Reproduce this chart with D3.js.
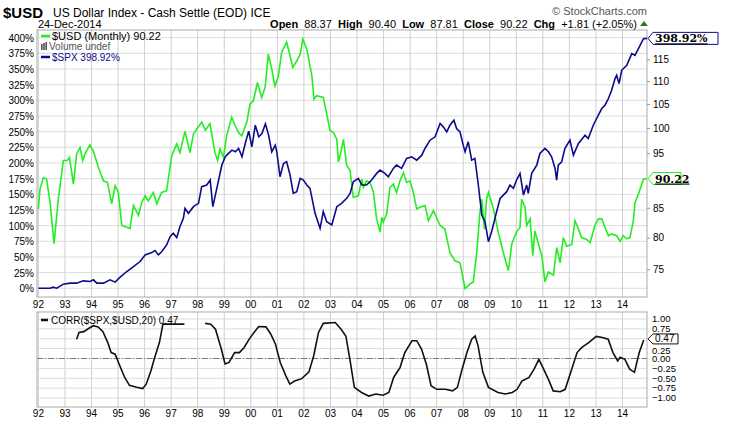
<!DOCTYPE html>
<html><head><meta charset="utf-8">
<script src="https://cdn.jsdelivr.net/npm/d3@7"></script>
<style>
body{margin:0;background:#fff;font-family:"Liberation Sans",Arial,sans-serif}
text{font-family:"Liberation Sans",Arial,sans-serif}
</style></head>
<body><svg width="750" height="425"></svg>
<script>
// monthly-ish readings: [decimal year, value]
var usd = [[1992.0,84.8],[1992.06,88.3],[1992.19,90.4],[1992.31,90.1],[1992.44,85.9],[1992.59,79.0],[1992.75,86.5],[1992.94,93.6],[1993.09,93.6],[1993.17,94.2],[1993.32,89.2],[1993.44,94.8],[1993.57,96.1],[1993.67,93.6],[1993.76,94.9],[1993.94,96.6],[1994.07,95.4],[1994.26,92.3],[1994.45,89.8],[1994.6,89.5],[1994.76,85.7],[1994.89,88.9],[1995.01,87.7],[1995.14,82.0],[1995.33,81.7],[1995.45,81.5],[1995.58,85.4],[1995.77,83.7],[1995.89,85.9],[1996.02,87.1],[1996.14,86.2],[1996.33,87.7],[1996.46,85.7],[1996.64,87.7],[1996.83,88.0],[1997.02,94.5],[1997.21,96.8],[1997.33,95.1],[1997.52,99.3],[1997.71,95.1],[1997.84,98.8],[1998.02,100.2],[1998.15,101.2],[1998.29,99.5],[1998.46,100.9],[1998.65,95.1],[1998.75,93.6],[1998.84,95.8],[1998.97,94.2],[1999.09,98.4],[1999.28,102.2],[1999.41,100.5],[1999.53,99.1],[1999.66,98.4],[1999.85,101.2],[1999.97,105.0],[2000.1,105.7],[2000.25,109.7],[2000.41,106.4],[2000.54,108.6],[2000.66,116.2],[2000.79,112.7],[2000.91,108.9],[2001.04,111.2],[2001.16,116.6],[2001.35,119.1],[2001.48,115.8],[2001.58,113.1],[2001.73,114.6],[2001.86,116.2],[2001.96,119.8],[2002.11,117.4],[2002.3,111.2],[2002.38,106.0],[2002.48,106.8],[2002.73,106.4],[2002.86,102.9],[2002.98,99.5],[2003.11,99.1],[2003.24,97.7],[2003.3,93.3],[2003.36,94.5],[2003.49,97.7],[2003.61,92.7],[2003.74,91.7],[2003.86,86.8],[2004.05,87.1],[2004.18,90.1],[2004.24,88.6],[2004.36,89.8],[2004.49,89.5],[2004.62,87.7],[2004.74,83.1],[2004.87,80.9],[2004.93,83.4],[2004.99,82.6],[2005.12,84.0],[2005.24,88.6],[2005.37,89.2],[2005.49,87.7],[2005.62,89.8],[2005.75,91.3],[2005.87,89.5],[2006.0,89.8],[2006.12,87.7],[2006.25,84.8],[2006.37,85.1],[2006.56,85.4],[2006.69,82.8],[2006.88,84.5],[2007.13,82.0],[2007.31,81.4],[2007.5,77.6],[2007.69,76.3],[2007.88,76.0],[2008.07,72.1],[2008.26,72.8],[2008.38,73.1],[2008.51,77.6],[2008.63,84.2],[2008.7,86.5],[2008.8,81.4],[2008.88,86.5],[2008.95,87.7],[2009.14,84.8],[2009.32,80.9],[2009.51,77.6],[2009.7,74.8],[2009.83,79.0],[2010.01,80.9],[2010.14,81.7],[2010.2,86.5],[2010.33,85.1],[2010.39,82.0],[2010.52,83.1],[2010.62,77.1],[2010.7,81.1],[2010.83,79.0],[2010.96,77.1],[2011.08,73.1],[2011.21,74.6],[2011.4,74.1],[2011.52,78.4],[2011.65,76.0],[2011.77,80.0],[2011.9,78.6],[2012.09,78.9],[2012.21,82.8],[2012.34,81.4],[2012.46,80.0],[2012.65,79.7],[2012.78,79.2],[2012.96,82.0],[2013.09,83.1],[2013.22,83.1],[2013.34,81.7],[2013.47,80.3],[2013.59,80.6],[2013.78,80.3],[2013.91,79.4],[2014.03,80.3],[2014.16,79.8],[2014.28,80.0],[2014.41,82.8],[2014.47,85.9],[2014.6,87.4],[2014.79,90.1],[2014.92,90.22]];

var spx = [[1992.0,0],[1992.19,0],[1992.44,0.2],[1992.56,1.8],[1992.69,0.2],[1992.94,6.6],[1993.19,8.2],[1993.44,8.2],[1993.69,11.9],[1993.95,10.8],[1994.07,13.5],[1994.2,8.2],[1994.45,8.2],[1994.7,13.5],[1994.89,9.8],[1995.08,17.7],[1995.33,26.8],[1995.58,34.7],[1995.83,42.7],[1996.02,53.3],[1996.27,57.0],[1996.39,60.2],[1996.52,53.3],[1996.65,58.6],[1996.83,69.2],[1996.96,82.5],[1997.08,87.8],[1997.21,80.9],[1997.33,98.4],[1997.46,111.7],[1997.52,127.7],[1997.65,119.7],[1997.84,130.3],[1998.03,135.6],[1998.15,162.2],[1998.34,164.9],[1998.47,172.8],[1998.57,130.3],[1998.72,159.5],[1998.91,196.7],[1999.04,210.0],[1999.16,215.3],[1999.29,220.6],[1999.42,217.9],[1999.54,223.2],[1999.67,210.0],[1999.79,231.2],[1999.92,250.9],[2000.04,225.9],[2000.17,260.4],[2000.3,241.8],[2000.42,247.1],[2000.55,262.5],[2000.67,244.5],[2000.79,217.9],[2000.92,228.5],[2000.98,217.9],[2001.1,178.1],[2001.23,199.3],[2001.35,202.0],[2001.48,180.7],[2001.6,151.5],[2001.73,154.2],[2001.86,175.4],[2001.98,172.8],[2002.11,164.9],[2002.23,159.5],[2002.42,119.7],[2002.61,95.8],[2002.73,122.3],[2002.86,106.4],[2003.05,101.1],[2003.24,130.3],[2003.42,135.6],[2003.61,143.6],[2003.74,151.5],[2003.86,170.1],[2004.05,175.4],[2004.18,164.9],[2004.36,164.9],[2004.55,172.8],[2004.74,183.4],[2004.87,188.6],[2005.05,183.4],[2005.18,178.1],[2005.37,191.3],[2005.49,196.6],[2005.68,191.3],[2005.87,207.2],[2006.06,209.9],[2006.25,204.6],[2006.44,212.5],[2006.56,223.2],[2006.75,236.4],[2006.94,241.8],[2007.13,263.0],[2007.25,257.7],[2007.38,249.7],[2007.5,260.4],[2007.65,268.4],[2007.75,255.0],[2007.88,249.7],[2008.0,228.5],[2008.07,217.9],[2008.19,233.8],[2008.32,204.6],[2008.44,207.2],[2008.57,164.9],[2008.7,116.9],[2008.82,106.4],[2008.95,74.4],[2009.07,90.3],[2009.26,122.3],[2009.39,143.5],[2009.51,148.8],[2009.64,154.2],[2009.76,164.9],[2009.89,159.5],[2010.01,172.8],[2010.14,183.4],[2010.27,148.8],[2010.39,164.9],[2010.45,151.5],[2010.58,183.4],[2010.77,196.7],[2010.89,215.3],[2011.08,223.2],[2011.21,217.9],[2011.33,209.9],[2011.46,191.3],[2011.52,172.8],[2011.58,196.6],[2011.71,201.9],[2011.83,223.2],[2012.02,236.4],[2012.15,212.5],[2012.34,231.1],[2012.59,244.4],[2012.71,239.1],[2012.9,260.3],[2013.09,276.3],[2013.22,286.9],[2013.34,292.2],[2013.47,302.9],[2013.59,316.1],[2013.72,334.7],[2013.78,340.0],[2013.87,326.7],[2013.97,348.0],[2014.16,356.0],[2014.35,374.6],[2014.47,371.9],[2014.6,382.5],[2014.79,398.5],[2014.92,398.92]];

// null marks the stretch the indicator leaves blank
var corr = [[1993.44,0.49],[1993.53,0.66],[1993.71,0.68],[1993.89,0.76],[1994.07,0.83],[1994.25,0.80],[1994.43,0.68],[1994.61,0.41],[1994.74,0.15],[1994.89,0.11],[1995.07,-0.19],[1995.25,-0.48],[1995.43,-0.68],[1995.7,-0.73],[1995.93,-0.76],[1996.06,-0.65],[1996.24,-0.31],[1996.36,-0.02],[1996.56,0.41],[1996.69,0.87],[1996.78,0.87],[1997.5,0.87],[1997.9,null],[1998.28,0.89],[1998.49,0.87],[1998.67,0.74],[1998.89,0.24],[1999.03,-0.14],[1999.18,-0.10],[1999.39,0.15],[1999.57,0.15],[1999.75,0.28],[1999.94,0.49],[2000.12,0.66],[2000.3,0.81],[2000.57,0.80],[2000.75,0.62],[2000.93,0.36],[2001.11,-0.10],[2001.32,-0.44],[2001.47,-0.65],[2001.65,-0.57],[2001.92,-0.51],[2002.19,-0.34],[2002.37,0.07],[2002.55,0.66],[2002.73,0.89],[2003.18,0.91],[2003.4,0.74],[2003.58,0.57],[2003.72,0.03],[2003.9,-0.73],[2004.17,-0.86],[2004.44,-0.95],[2004.71,-0.90],[2004.98,-0.93],[2005.2,-0.86],[2005.38,-0.48],[2005.62,-0.23],[2005.8,0.15],[2006.07,0.45],[2006.25,0.45],[2006.43,0.24],[2006.61,-0.14],[2006.79,-0.69],[2007.0,-0.78],[2007.33,-0.78],[2007.6,-0.82],[2007.78,-0.73],[2007.96,-0.27],[2008.14,0.15],[2008.32,0.49],[2008.45,0.57],[2008.56,0.32],[2008.74,-0.35],[2008.95,-0.73],[2009.31,-0.86],[2009.58,-0.90],[2009.85,-0.86],[2010.03,-0.78],[2010.21,-0.57],[2010.48,-0.48],[2010.67,-0.27],[2010.85,-0.02],[2011.03,-0.27],[2011.21,-0.53],[2011.39,-0.82],[2011.66,-0.84],[2011.84,-0.78],[2012.05,-0.35],[2012.29,0.15],[2012.47,0.28],[2012.74,0.41],[2013.01,0.56],[2013.24,0.53],[2013.46,0.49],[2013.64,0.15],[2013.82,-0.06],[2013.91,0.03],[2014.09,-0.02],[2014.27,-0.27],[2014.45,-0.35],[2014.63,0.15],[2014.8,0.47]];

var svg = d3.select('svg');
var green = '#22ee22', navy = '#0c0c8a', grid = '#dcdcdc';
var L = 37, R = 647;

var x = d3.scaleLinear().domain([1992, 2015]).range([38.4, 38.4 + 23*26.55]);
var yPct = d3.scaleLinear().domain([0, 400]).range([288.3, 37.7]);
var yUsd = d3.scaleLog().domain([75, 115]).range([269.3, 59.3]);
var yC = d3.scaleLinear().domain([-1, 1]).range([398, 319]);

var years = d3.range(1992, 2015);
var yrLab = d => String(d).slice(2);

// ---- main panel
var mainTop = 30, mainBot = 297;
d3.range(0, 401, 25).forEach(function(p){
    svg.append('line').attr('x1', L).attr('x2', R).attr('y1', yPct(p)).attr('y2', yPct(p)).attr('stroke', grid);
    svg.append('text').attr('x', 34).attr('y', yPct(p) + 4).attr('text-anchor', 'end')
       .attr('font-size', 10).text(p + '%');
});
years.forEach(function(yr){
    svg.append('line').attr('x1', x(yr)).attr('x2', x(yr)).attr('y1', mainTop).attr('y2', mainBot).attr('stroke', '#cfcfcf');
    svg.append('text').attr('x', x(yr)).attr('y', 308).attr('text-anchor', 'middle').attr('font-size', 10).text(yrLab(yr));
    svg.append('line').attr('x1', x(yr)).attr('x2', x(yr)).attr('y1', 312).attr('y2', 407).attr('stroke', '#cfcfcf');
    svg.append('text').attr('x', x(yr)).attr('y', 417).attr('text-anchor', 'middle').attr('font-size', 10).text(yrLab(yr));
});
svg.append('rect').attr('x', L).attr('y', mainTop).attr('width', R - L).attr('height', mainBot - mainTop)
   .attr('fill', 'none').attr('stroke', '#aaa');

// right usd axis (90 sits under the value tag)
var rAxis = d3.axisRight(yUsd).tickValues([75, 80, 85, 95, 100, 105, 110, 115]).tickFormat(d3.format('d')).tickSize(3);
svg.append('g').attr('transform', `translate(${R},0)`).call(rAxis)
   .call(g => g.select('.domain').remove())
   .call(g => g.selectAll('text').attr('font-size', 10).attr('x', 6).style('font-family', 'Liberation Sans'))
   .call(g => g.selectAll('line').attr('stroke', '#999'));

var line = d3.line().x(d => x(d[0]));
svg.append('path').attr('d', line.y(d => yUsd(d[1]))(usd)).attr('fill', 'none').attr('stroke', green).attr('stroke-width', 1.6);
svg.append('path').attr('d', line.y(d => yPct(d[1]))(spx)).attr('fill', 'none').attr('stroke', navy).attr('stroke-width', 1.6);

// value tags
function tag(yv, txt, col, w){
    var g = svg.append('g').attr('transform', `translate(${R + 1},${yv})`);
    g.append('path').attr('d', `M0,0 L5,-6 L${w},-6 L${w},6 L5,6 Z`).attr('fill', '#fff').attr('stroke', col);
    g.append('text').attr('x', 7).attr('y', 4).attr('font-size', 11).attr('font-weight', 'bold')
     .style('font-family', 'DejaVu Serif').style('text-decoration', 'underline').text(txt);
}
tag(yPct(398.92), '398.92%', navy, 70);
tag(yUsd(90.22), '90.22', green, 33);

// legend
var lg = svg.append('g').attr('font-size', 11);
lg.append('line').attr('x1', 41).attr('x2', 50).attr('y1', 36).attr('y2', 36).attr('stroke', green).attr('stroke-width', 2.5);
lg.append('text').attr('x', 52).attr('y', 40).attr('font-family', 'DejaVu Sans').text('$USD (Monthly) 90.22');
[0, 1, 2].forEach(i => lg.append('rect').attr('x', 41 + i * 2.2).attr('y', 44 - i).attr('width', 1.6).attr('height', 6 + i).attr('fill', '#555'));
lg.append('text').attr('x', 49).attr('y', 50).attr('fill', '#555').attr('font-size', 10).attr('font-family', 'DejaVu Sans').text('Volume undef');
lg.append('line').attr('x1', 41).attr('x2', 50).attr('y1', 57).attr('y2', 57).attr('stroke', navy).attr('stroke-width', 2.5);
lg.append('text').attr('x', 52).attr('y', 61).attr('fill', navy).attr('font-size', 10).attr('font-family', 'DejaVu Sans').text('$SPX 398.92%');

// ---- lower panel
d3.range(-1, 1.01, 0.25).forEach(function(c){
    svg.append('line').attr('x1', L).attr('x2', R).attr('y1', yC(c)).attr('y2', yC(c)).attr('stroke', grid);
    if (Math.abs(c - 0.5) > 0.01)
        svg.append('text').attr('x', 652).attr('y', yC(c) + (c === 0.25 ? 5 : 3.3)).attr('font-size', 9.5).text(d3.format('.2f')(c));
});
svg.append('line').attr('x1', L).attr('x2', R).attr('y1', yC(0)).attr('y2', yC(0))
   .attr('stroke', '#777').attr('stroke-dasharray', '6,2,1,2');
svg.append('rect').attr('x', L).attr('y', 312).attr('width', R - L).attr('height', 95).attr('fill', 'none').attr('stroke', '#aaa');
svg.append('path').attr('d', line.defined(d => d[1] !== null).y(d => yC(d[1]))(corr))
   .attr('fill', 'none').attr('stroke', '#111').attr('stroke-width', 1.6);
svg.append('line').attr('x1', 41).attr('x2', 48).attr('y1', 320).attr('y2', 320).attr('stroke', '#111').attr('stroke-width', 2.5);
svg.append('text').attr('x', 51).attr('y', 324).attr('font-size', 10).attr('font-family', 'DejaVu Sans').text('CORR($SPX,$USD,20) 0.47');
var cg = svg.append('g').attr('transform', `translate(${R + 1},${yC(0.47) - 1})`);
cg.append('path').attr('d', 'M0,0 L5,-5 L30,-5 L30,5 L5,5 Z').attr('fill', '#fff').attr('stroke', '#111');
cg.append('text').attr('x', 7).attr('y', 3.5).attr('font-size', 10).text('0.47');

// ---- header
svg.append('text').attr('x', 3).attr('y', 18).attr('font-size', 15).attr('font-weight', 'bold').text('$USD');
svg.append('text').attr('x', 53).attr('y', 17).attr('font-size', 12).text('US Dollar Index - Cash Settle (EOD) ICE');
svg.append('text').attr('x', 38).attr('y', 28).attr('font-size', 11).text('24-Dec-2014');
svg.append('text').attr('x', 647).attr('y', 15).attr('text-anchor', 'end').attr('font-size', 11).attr('fill', '#555').text('© StockCharts.com');
var hdr = svg.append('text').attr('x', 637).attr('y', 28).attr('text-anchor', 'end').attr('font-size', 11);
[['Open ', ' 88.37  '], ['High ', ' 90.40  '], ['Low ', ' 87.81  '], ['Close ', ' 90.22  '], ['Chg ', ' +1.81 (+2.05%)']].forEach(function(p){
    hdr.append('tspan').attr('font-weight', 'bold').text(p[0]);
    hdr.append('tspan').attr('xml:space', 'preserve').text(p[1]);
});
svg.append('path').attr('d', 'M640,26 L644,21 L648,26 Z').attr('fill', '#2a7a2a');
</script></body></html>
